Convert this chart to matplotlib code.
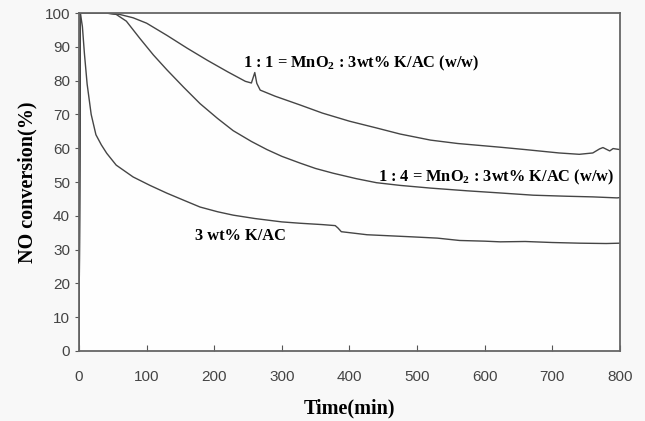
import numpy as np
import matplotlib.pyplot as plt

plt.rcParams['mathtext.fontset'] = 'custom'
plt.rcParams['mathtext.bf'] = 'Liberation Serif:bold'
plt.rcParams['mathtext.rm'] = 'Liberation Serif:bold'

# 1 : 1 = MnO2 : 3wt% K/AC
t_11 = [0, 2, 5, 20, 40, 60, 80, 100, 130, 160, 190, 220, 246, 255, 260, 263, 268, 290,
        327, 360, 400, 440, 475, 520, 560, 623, 660, 710, 740, 760, 770, 775, 785, 790, 800]
v_11 = [0, 100, 100, 100, 100, 99.6, 98.6, 97.0, 93.4, 89.6, 86.0, 82.6, 79.8, 79.3, 82.4, 79.2, 77.2, 75.4,
        72.8, 70.4, 68.0, 66.0, 64.2, 62.4, 61.4, 60.3, 59.6, 58.6, 58.2, 58.6, 59.8, 60.2, 59.2, 59.9, 59.6]

# 1 : 4 = MnO2 : 3wt% K/AC
t_14 = [0, 2, 5, 20, 40, 55, 70, 90, 110, 130, 155, 179, 205, 228, 255, 278, 300, 327, 350,
        376, 410, 440, 475, 520, 574, 620, 672, 720, 760, 796, 800]
v_14 = [0, 100, 100, 100, 100, 99.6, 97.6, 92.5, 87.6, 83.2, 78.0, 73.2, 68.8, 65.2, 62.0, 59.6, 57.6, 55.6, 54.0,
        52.6, 51.0, 49.8, 49.0, 48.2, 47.4, 46.8, 46.1, 45.8, 45.6, 45.3, 45.4]

# 3 wt% K/AC
t_k = [0, 2, 5, 8, 12, 18, 25, 33, 41, 55, 80, 105, 130, 155, 179, 205, 228, 260, 300, 327,
       360, 379, 383, 388, 426, 490, 530, 563, 600, 623, 660, 700, 741, 780, 800]
v_k = [0, 100, 96, 88, 79, 70, 64, 61, 58.5, 55.0, 51.5, 49.0, 46.7, 44.6, 42.6, 41.2, 40.2, 39.2, 38.2, 37.8,
       37.4, 37.1, 36.4, 35.3, 34.4, 33.8, 33.4, 32.7, 32.5, 32.3, 32.4, 32.1, 31.9, 31.8, 31.9]

fig = plt.figure(figsize=(6.45, 4.21), dpi=100, facecolor='#f8f8f8')
ax = fig.add_axes([0.1225, 0.1663, 0.8385, 0.8027])
ax.set_facecolor('#fefefe')

line_col = '#454545'
ax.plot(t_11, v_11, color=line_col, lw=1.0)
ax.plot(t_14, v_14, color=line_col, lw=1.0)
ax.plot(t_k, v_k, color=line_col, lw=1.0)

ax.set_xlim(0, 800)
ax.set_ylim(0, 100)
ax.set_xticks(range(0, 801, 100))
ax.set_yticks(range(0, 101, 10))

for s in ax.spines.values():
    s.set_color('#666666')
    s.set_linewidth(1.3)

ax.tick_params(axis='x', direction='in', length=4, color='#555555', labelcolor='#444444',
               labelsize=11, pad=14)
ax.tick_params(axis='y', direction='out', length=3, color='#555555', labelcolor='#444444',
               labelsize=11)
for lab in ax.get_xticklabels() + ax.get_yticklabels():
    lab.set_family('Liberation Sans')

serif = 'Liberation Serif'
ax.set_xlabel('Time(min)', family=serif, fontweight='bold', fontsize=14.5, labelpad=10)
ax.set_ylabel('NO conversion(%)', family=serif, fontweight='bold', fontsize=14.5, labelpad=5)

ax.text(243, 84, r'1 : 1 = MnO$_\mathbf{2}$ : 3wt% K/AC (w/w)', family=serif, fontweight='bold',
        fontsize=11.8, va='baseline')
ax.text(442, 50.2, r'1 : 4 = MnO$_\mathbf{2}$ : 3wt% K/AC (w/w)', family=serif, fontweight='bold',
        fontsize=11.8, va='baseline')
ax.text(172, 32.8, '3 wt% K/AC', family=serif, fontweight='bold', fontsize=11.8, va='baseline')

fig.savefig('out.png', dpi=100, facecolor=fig.get_facecolor())
